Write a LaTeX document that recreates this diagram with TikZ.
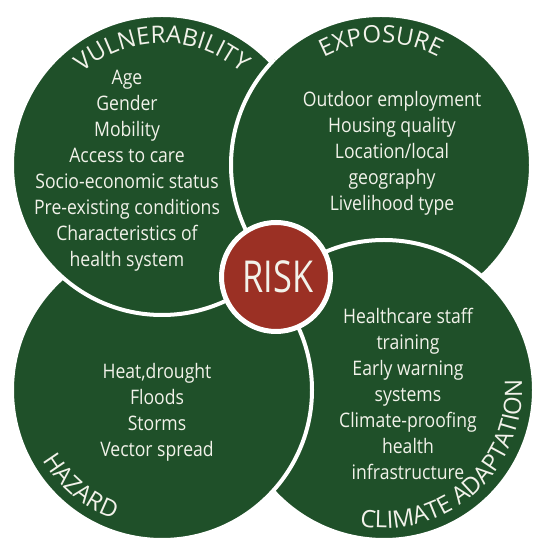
\documentclass[tikz,border=0pt]{standalone}
\usepackage{fontspec}
\setmainfont{Open Sans}[FakeStretch=0.88]
\newfontfamily\titlefont{Open Sans}
\newfontfamily\riskfont{Open Sans}[FakeStretch=0.78]
\usetikzlibrary{decorations.text}
\definecolor{leaf}{HTML}{1F5029}
\definecolor{brick}{HTML}{9B3024}
\definecolor{ink}{HTML}{F2F2EA}

\begin{document}
\begin{tikzpicture}[x=1pt,y=1pt,
  ring/.style={fill=leaf,draw=white,line width=4pt},
  items/.style={text=ink,align=center,font=\fontsize{20}{26}\selectfont},
  title/.style={decorate,decoration={text along path,text align=center,
    text={|\titlefont\fontsize{24}{24}\selectfont\color{ink}|#1}}}]
\useasboundingbox (0,0) rectangle (534,543);
\coordinate (vuln) at (162,378);
\coordinate (expo) at (381,378);
\coordinate (haz) at (162,153);
\coordinate (adapt) at (384,153);
\coordinate (risk) at (276,266);
% the four circles overlap in a ring
\draw[ring] (expo) circle[radius=150pt];
\draw[ring] (adapt) circle[radius=150pt];
\draw[ring] (haz) circle[radius=150pt];
\draw[ring] (vuln) circle[radius=150pt];
\begin{scope}
\clip (vuln) circle[radius=154pt];
\draw[ring] (expo) circle[radius=150pt];
\end{scope}
\draw[fill=brick,draw=white,line width=5pt] (risk) circle[radius=54.5pt];
\node[text=ink,font=\riskfont\fontsize{44}{44}\selectfont] (risklabel) at ([xshift=2pt]risk) {RISK};
% curved titles
\path[title=VULNERABILITY] (vuln) ++(180:122pt) arc[start angle=180,end angle=0,radius=122pt];
\path[title=EXPOSURE] (expo) ++(180:122pt) arc[start angle=180,end angle=0,radius=122pt];
\path[title=HAZARD] (haz) ++(140:138pt) arc[start angle=140,end angle=320,radius=138pt];
\path[title=CLIMATE ADAPTATION] (adapt) ++(222:138pt) arc[start angle=222,end angle=402,radius=138pt];
% lists
\node[items] (vulnlist) at (127,372) {Age\\Gender\\Mobility\\Access to care\\Socio-economic status\\Pre-existing conditions\\Characteristics of\\health system};
\node[items] (expolist) at (392,390) {Outdoor employment\\Housing quality\\Location/local\\geography\\Livelihood type};
\node[items] (hazlist) at (157,131) {Heat,drought\\Floods\\Storms\\Vector spread};
\node[items] (adaptlist) at (408,149) {Healthcare staff\\training\\Early warning\\systems\\Climate-proofing\\health\\infrastructure};
\end{tikzpicture}
\end{document}
